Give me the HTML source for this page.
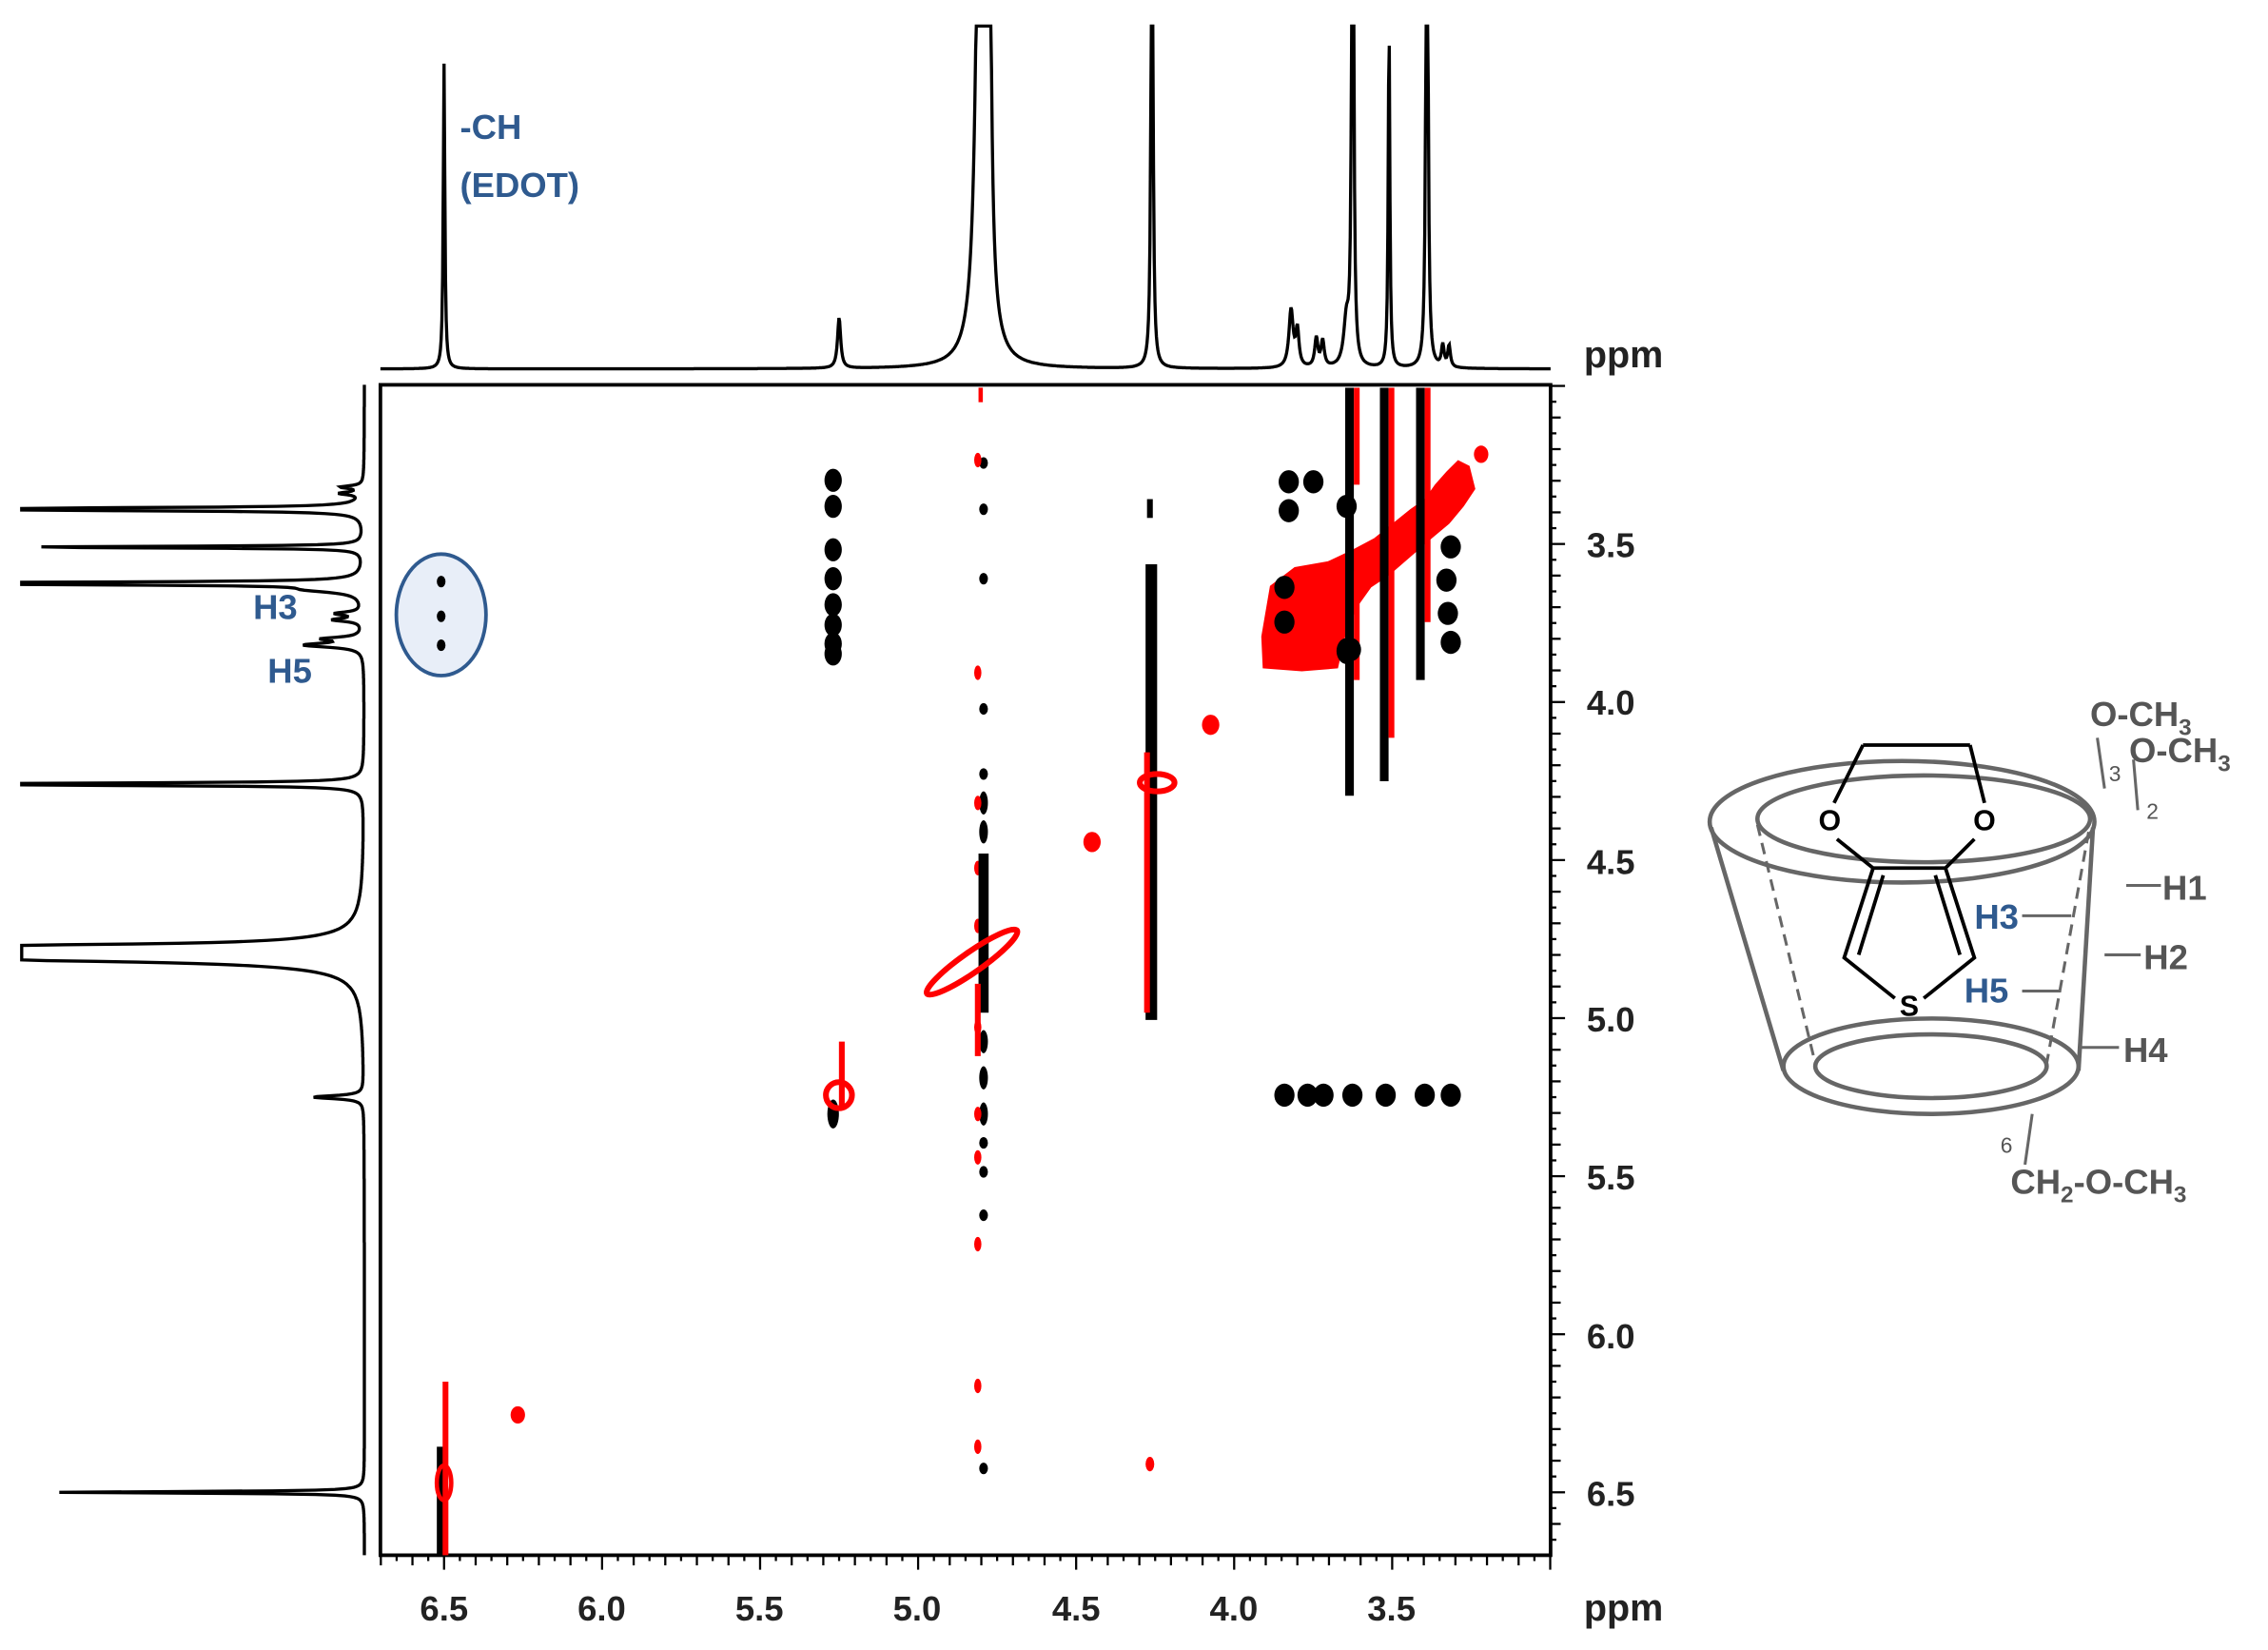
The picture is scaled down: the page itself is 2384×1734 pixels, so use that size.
<!DOCTYPE html>
<html><head><meta charset="utf-8"><style>
html,body{margin:0;padding:0;background:#fff}
svg{display:block}
text{font-family:"Liberation Sans",Arial,sans-serif}
</style></head><body>
<svg id="s" width="2384" height="1734" viewBox="0 0 1568 1140.5" preserveAspectRatio="none" xmlns="http://www.w3.org/2000/svg">
<rect width="1568" height="1141" fill="#fff"/>
<rect x="263" y="266" width="809" height="809" fill="none" stroke="#000" stroke-width="2.5"/>
<g id="ticks" stroke="#000" stroke-width="1.5"></g>
<g id="spec" fill="none" stroke="#000" stroke-width="2.2"></g>
<ellipse cx="305" cy="425" rx="31" ry="42" fill="#e8eef8" stroke="#2f5a8f" stroke-width="2.5"/>
<g id="cp"></g>
<g font-size="24" font-weight="bold" fill="#222" text-anchor="middle">
<text x="307" y="1120">6.5</text><text x="416" y="1120">6.0</text><text x="525" y="1120">5.5</text>
<text x="634" y="1120">5.0</text><text x="744" y="1120">4.5</text><text x="853" y="1120">4.0</text>
<text x="962" y="1120">3.5</text>
</g>
<g font-size="24" font-weight="bold" fill="#222" text-anchor="start">
<text x="1097" y="385">3.5</text><text x="1097" y="494">4.0</text><text x="1097" y="604">4.5</text>
<text x="1097" y="713">5.0</text><text x="1097" y="822">5.5</text><text x="1097" y="932">6.0</text>
<text x="1097" y="1041">6.5</text>
</g>
<text x="1095" y="1120" font-size="26" font-weight="bold" fill="#222">ppm</text>
<text x="1095" y="254" font-size="26" font-weight="bold" fill="#222">ppm</text>
<text x="318" y="96" font-size="24" font-weight="bold" fill="#2f5a8f">-CH</text>
<text x="318" y="136" font-size="24" font-weight="bold" fill="#2f5a8f">(EDOT)</text>
<text x="175" y="428" font-size="24" font-weight="bold" fill="#2f5a8f">H3</text>
<text x="185" y="472" font-size="24" font-weight="bold" fill="#2f5a8f">H5</text>
<g fill="none" stroke="#666" stroke-width="3">
<ellipse cx="1315" cy="568" rx="133" ry="42"/>
<ellipse cx="1330" cy="566" rx="115" ry="30"/>
<ellipse cx="1335" cy="737" rx="102" ry="33"/>
<ellipse cx="1335" cy="737" rx="80" ry="22"/>
<line x1="1183" y1="572" x2="1233" y2="740"/>
<line x1="1447" y1="572" x2="1437" y2="740"/>
<line x1="1215" y1="570" x2="1255" y2="735" stroke-dasharray="8,5" stroke-width="2"/>
<line x1="1444" y1="575" x2="1415" y2="735" stroke-dasharray="8,5" stroke-width="2"/>
</g>
<g fill="none" stroke="#000" stroke-width="2.5">
<path d="M1288 515 L1362 515 M1288 515 L1268 555 M1362 515 L1372 555"/>
<path d="M1270 580 L1295 600 L1275 662 L1310 690 M1365 580 L1345 600 L1365 662 L1330 690 M1295 600 L1345 600 M1302 605 L1285 660 M1338 605 L1355 660"/>
</g>
<g font-size="20" font-weight="bold" fill="#000" text-anchor="middle">
<text x="1265" y="574">O</text><text x="1372" y="574">O</text><text x="1320" y="702">S</text>
</g>
<g stroke="#666" stroke-width="2">
<line x1="1398" y1="633" x2="1432" y2="633"/><line x1="1398" y1="685" x2="1425" y2="685"/>
<line x1="1470" y1="612" x2="1494" y2="612"/><line x1="1455" y1="660" x2="1480" y2="660"/>
<line x1="1437" y1="724" x2="1465" y2="724"/><line x1="1405" y1="770" x2="1400" y2="805"/>
<line x1="1450" y1="510" x2="1455" y2="545"/><line x1="1475" y1="525" x2="1478" y2="560"/>
</g>
<g font-size="24" font-weight="bold" fill="#555">
<text x="1445" y="502">O-CH<tspan font-size="16" dy="6">3</tspan></text>
<text x="1472" y="527">O-CH<tspan font-size="16" dy="6">3</tspan></text>
<text x="1495" y="622">H1</text><text x="1482" y="670">H2</text><text x="1468" y="734">H4</text>
<text x="1390" y="825">CH<tspan font-size="16" dy="6">2</tspan><tspan dy="-6">-O-CH</tspan><tspan font-size="16" dy="6">3</tspan></text>
</g>
<g font-size="15" fill="#555"><text x="1458" y="540">3</text><text x="1484" y="566">2</text><text x="1383" y="797">6</text></g>
<text x="1365" y="642" font-size="24" font-weight="bold" fill="#2f5a8f">H3</text>
<text x="1358" y="693" font-size="24" font-weight="bold" fill="#2f5a8f">H5</text>
</svg>
<script>
var NS="http://www.w3.org/2000/svg";
function X(p){return 307+(6.5-p)*218.5}
function Y(p){return 376+(p-3.5)*218.5}
function el(t,a,par){var e=document.createElementNS(NS,t);for(var k in a)e.setAttribute(k,a[k]);document.getElementById(par).appendChild(e);return e}
for(var i=0;i<=74;i++){var p=3.0+i*0.05;p=Math.round(p*100)/100;var maj=Math.abs(p*2-Math.round(p*2))<1e-6;var min=Math.abs(p*10-Math.round(p*10))<1e-6;
var L=maj?10:(min?7:4);var x=X(p);if(x>=263&&x<=1072)el("line",{x1:x,y1:1075,x2:x,y2:1075+L},"ticks");
var y=Y(p);if(y>=266&&y<=1075)el("line",{x1:1072,y1:y,x2:1072+L,y2:y},"ticks");}
var pk=[[6.5,211,.003],[5.25,35,.006],[4.8,700,.012],[4.775,300,.006],[4.26,500,.003],[3.82,40,.008],[3.80,25,.006],[3.74,20,.006],[3.72,18,.006],[3.645,30,.01],[3.625,600,.003],[3.51,240,.003],[3.39,600,.003],[3.34,15,.005],[3.32,15,.005]];
function f(p){var s=0;for(var j=0;j<pk.length;j++){var d=p-pk[j][0],w=pk[j][2];s+=pk[j][1]*w*w/(d*d+w*w)}return s}
var d="";for(var x=263;x<=1072;x+=0.5){var p=6.5-(x-307)/218.5;var y=255-f(p);if(y<18)y=18;d+=(d?"L":"M")+x.toFixed(1)+" "+y.toFixed(1)}
el("path",{d:d},"spec");
d="";for(var y=266;y<=1075;y+=0.5){var p=3.5+(y-376)/218.5;var x=252-f(p)*1.0;if(x<15)x=15;d+=(d?"L":"M")+x.toFixed(1)+" "+y.toFixed(1)}
el("path",{d:d},"spec");
function B(x,y,rx,ry,c){el("ellipse",{cx:x,cy:y,rx:rx,ry:ry,fill:c||"#000"},"cp")}
function R(x,y,rx,ry,c,w,rot){el("ellipse",{cx:x,cy:y,rx:rx,ry:ry,fill:"none",stroke:c||"red","stroke-width":w||4,transform:rot?"rotate("+rot+" "+x+" "+y+")":""},"cp")}
function V(x,y1,y2,w,c){el("line",{x1:x,y1:y1,x2:x,y2:y2,stroke:c,"stroke-width":w},"cp")}
function P(pts,c){el("polygon",{points:pts,fill:c},"cp")}
B(305,402,3,4);B(305,426,3,4);B(305,446,3,4);
[332,350,380,400,418,432,445,452].forEach(function(y){B(576,y,6,8)});B(576,770,4,10);
V(582,720,765,4,"red");R(580,757,9,9,"red",4);
V(678,268,278,3,"red");
[320,352,400,490,535,555,575,600,625,650,690,720,745,770,790,810,840,1015].forEach(function(y,i){B(680,y,3,i>4&&i<14?8:4)});
[318,465,555,600,640,710,770,800,860,958,1000].forEach(function(y){B(676,y,2.5,5,"red")});
V(680,590,700,7,"#000");V(676,680,730,4,"red");
R(672,665,38,7,"red",4,-35);
V(795,345,358,4,"#000");V(796,390,705,8,"#000");V(793,520,700,4,"red");R(800,541,12,6,"red",4);
B(795,1012,3,5,"red");
B(837,501,6,7,"red");B(755,582,6,7,"red");B(358,978,5,6,"red");
V(305,1000,1075,6,"#000");V(308,955,1075,4,"red");R(307,1025,5,12,"red",3);
// cluster red
P("873,462 872,440 878,405 895,392 918,388 935,380 950,372 965,360 975,352 985,345 992,335 1000,326 1008,318 1016,322 1020,338 1012,350 1002,362 990,372 975,385 960,398 948,406 938,420 930,440 925,462 900,464","red");
B(1024,314,5,6,"red");
V(933,268,550,6,"#000");V(938,268,335,4,"red");V(938,395,470,4,"red");
V(957,268,540,6,"#000");V(962,268,510,4,"red");
V(982,268,470,6,"#000");V(987,268,430,4,"red");
[[891,333],[908,333],[891,353],[931,350],[888,406],[934,449],[888,430],[1003,378],[1000,401],[1001,424],[1003,444]].forEach(function(a){B(a[0],a[1],7,8)});
B(931,450,7,9);
[888,904,915,935,958,985,1003].forEach(function(x){B(x,757,7,8)});
</script>
</body></html>
